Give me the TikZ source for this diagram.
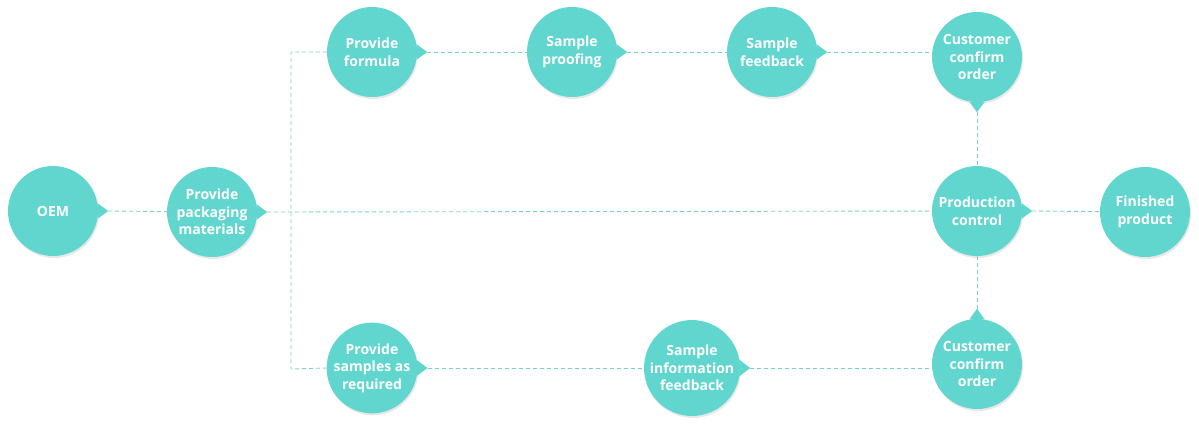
\documentclass[tikz,border=0pt]{standalone}
\usepackage{fontspec}
\setmainfont{Open Sans}
\usetikzlibrary{calc,shadows}
\definecolor{bubblefill}{RGB}{96,214,207}
\definecolor{linkline}{RGB}{118,210,204}
\tikzset{
  bubble/.style={circle, fill=bubblefill, minimum size=90pt, inner sep=0pt,
    text=white, align=center, font=\bfseries\fontsize{14}{17.5}\selectfont,
    drop shadow={opacity=0.18, shadow xshift=1pt, shadow yshift=-2pt}},
  link/.style={draw=linkline, dash pattern=on 4pt off 3pt, line width=0.9pt},
}
% small pointer on the side of a bubble, tip saved as (name-tip)
\newcommand{\tailright}[1]{%
  \fill[bubblefill] (#1.10) -- ($(#1.east)+(10,0)$) coordinate (#1-tip) -- (#1.-10) -- cycle;}
\newcommand{\taildown}[1]{%
  \fill[bubblefill] (#1.-100) -- ($(#1.south)+(0,10)$) coordinate (#1-tip) -- (#1.-80) -- cycle;}
\newcommand{\tailup}[1]{%
  \fill[bubblefill] (#1.80) -- ($(#1.north)+(0,-10)$) coordinate (#1-tip) -- (#1.100) -- cycle;}
\begin{document}
\begin{tikzpicture}[x=1pt, y=-1pt]
        \useasboundingbox (0,0) rectangle (1199,423);
        % left part
        \node[bubble] (oem) at (53,211) {OEM};
        \node[bubble] (pack) at (212,212) {Provide\\packaging\\materials};
        % upper row
        \node[bubble] (formula) at (372,52) {Provide\\formula};
        \node[bubble] (proof) at (572,52) {Sample\\proofing};
        \node[bubble] (sfeed) at (772,52) {Sample\\feedback};
        \node[bubble] (conftop) at (977,57) {Customer\\confirm\\order};
        % middle
        \node[bubble] (prod) at (977,211) {Production\\control};
        \node[bubble] (fin) at (1145,212) {Finished\\product};
        % lower row
        \node[bubble] (samples) at (372,368) {Provide\\samples as\\required};
        \node[bubble] (info) at (692,368) {Sample\\information\\feedback};
        \node[bubble] (confbot) at (977,364) {Customer\\confirm\\order};
        % pointers
        \tailright{oem}
        \tailright{pack}
        \tailright{formula}
        \tailright{proof}
        \tailright{sfeed}
        \taildown{conftop}
        \tailright{prod}
        \tailright{samples}
        \tailright{info}
        \tailup{confbot}
        % links
        \draw[link] (oem-tip) -- (pack);
        \draw[link] (pack-tip) -- (prod);
        \draw[link] (formula.west) -| (291,369) -- (samples.west);
        \draw[link] (formula-tip) -- (proof);
        \draw[link] (proof-tip) -- (sfeed);
        \draw[link] (sfeed-tip) -- (sfeed-tip -| conftop.west);
        \draw[link] (conftop-tip) -- (prod);
        \draw[link] (prod) -- (confbot-tip);
        \draw[link] (prod-tip) -- (fin);
        \draw[link] (samples-tip) -- (info);
        \draw[link] (info-tip) -- (info-tip -| confbot.west);
\end{tikzpicture}
\end{document}
